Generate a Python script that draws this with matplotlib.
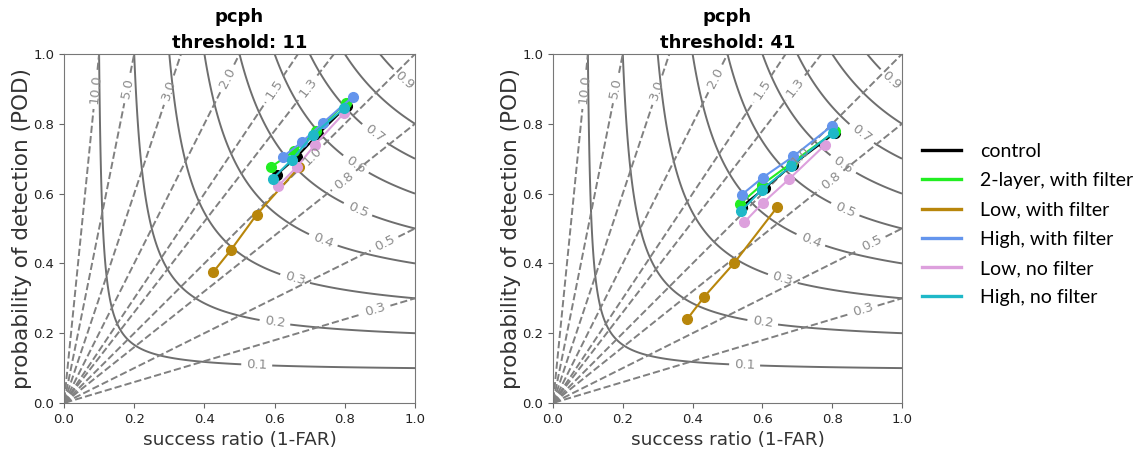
import numpy as np
import matplotlib.pyplot as plt
from matplotlib.lines import Line2D

# runs, in legend order
names = ["control", "2-layer, with filter", "Low, with filter",
         "High, with filter", "Low, no filter", "High, no filter"]
colors = ["black", "#22ee22", "#b8860b", "#6495ed", "#dda0dd", "#1fb8c8"]

# success ratio / POD, threshold 11
sr_11 = [[0.606, 0.663, 0.725, 0.805],
         [0.589, 0.655, 0.718, 0.803],
         [0.425, 0.476, 0.549, 0.670],
         [0.623, 0.677, 0.737, 0.822],
         [0.611, 0.663, 0.715, 0.798],
         [0.595, 0.649, 0.710, 0.799]]
pod_11 = [[0.654, 0.705, 0.771, 0.850],
          [0.676, 0.721, 0.778, 0.860],
          [0.375, 0.439, 0.540, 0.676],
          [0.705, 0.747, 0.802, 0.877],
          [0.623, 0.676, 0.740, 0.831],
          [0.643, 0.697, 0.769, 0.845]]

# success ratio / POD, threshold 41
sr_41 = [[0.541, 0.607, 0.687, 0.808],
         [0.536, 0.598, 0.684, 0.808],
         [0.385, 0.433, 0.519, 0.643],
         [0.541, 0.601, 0.689, 0.800],
         [0.548, 0.601, 0.677, 0.779],
         [0.538, 0.598, 0.681, 0.801]]
pod_41 = [[0.563, 0.616, 0.683, 0.774],
          [0.571, 0.625, 0.688, 0.778],
          [0.241, 0.304, 0.401, 0.562],
          [0.597, 0.646, 0.707, 0.795],
          [0.518, 0.573, 0.642, 0.739],
          [0.549, 0.611, 0.678, 0.775]]

csi_levels = [0.1, 0.2, 0.3, 0.4, 0.5, 0.6, 0.7, 0.8, 0.9]
bias_levels = [0.3, 0.5, 0.8, 1.0, 1.3, 1.5, 2.0, 3.0, 5.0, 10.0]

# where the contour labels sit
csi_label_pos = [(0.549, 0.108), (0.601, 0.232), (0.658, 0.355), (0.739, 0.468),
                 (0.837, 0.554), (0.834, 0.688), (0.886, 0.774), (0.971, 0.926)]
bias_label_pos = [(0.886, 0.272), (0.910, 0.463), (0.796, 0.640), (0.706, 0.711),
                  (0.696, 0.902), (0.601, 0.898), (0.463, 0.931), (0.294, 0.898),
                  (0.183, 0.902), (0.095, 0.898)]


def perf_diagram(ax, sr, pod, title):
    ticks = np.linspace(0.001, 1, 600)
    sr_g, pod_g = np.meshgrid(ticks, ticks)
    bias = pod_g / sr_g
    csi = 1.0 / (1.0 / sr_g + 1.0 / pod_g - 1.0)

    cs = ax.contour(sr_g, pod_g, csi, csi_levels, colors="#6e6e6e",
                    linewidths=1.4, linestyles="solid")
    ax.clabel(cs, fmt="%1.1f", fontsize=9.5, colors="#8c8c8c",
              manual=csi_label_pos, inline=True)
    bs = ax.contour(sr_g, pod_g, bias, bias_levels, colors="#808080",
                    linewidths=1.4, linestyles="dashed")
    ax.clabel(bs, fmt="%1.1f", fontsize=9.5, colors="#8c8c8c",
              manual=bias_label_pos, inline=True)

    for i in range(len(names)):
        ax.plot(sr[i], pod[i], "-o", color=colors[i], lw=1.5, ms=7, label=names[i])

    ax.set_xlim(0, 1)
    ax.set_ylim(0, 1)
    ax.set_xticks(np.arange(0, 1.01, 0.2))
    ax.set_yticks(np.arange(0, 1.01, 0.2))
    ax.tick_params(labelsize=9.5, color="#666666", labelcolor="#222222")
    for s in ax.spines.values():
        s.set_color("#777777")
    ax.set_xlabel("success ratio (1-FAR)", fontsize=13.3, color="#333333")
    ax.set_ylabel("probability of detection (POD)", fontsize=15.5,
                  color="#333333", labelpad=1)
    ax.set_title(title, fontsize=13, fontweight="bold", pad=4, linespacing=1.6)


fig = plt.figure(figsize=(11.44, 4.5), dpi=100)
ax1 = fig.add_axes([64 / 1144, 47 / 450, 351 / 1144, 349 / 450])
ax2 = fig.add_axes([553 / 1144, 47 / 450, 349 / 1144, 349 / 450])

perf_diagram(ax1, sr_11, pod_11, "pcph\nthreshold: 11")
perf_diagram(ax2, sr_41, pod_41, "pcph\nthreshold: 41")

handles = [Line2D([], [], color=c, lw=2.4) for c in colors]
fig.legend(handles, names, loc="center left", bbox_to_anchor=(922 / 1144, 0.501),
           frameon=False, prop={"family": "Lato", "size": 14},
           handlelength=2.0, handletextpad=1.0, labelspacing=0.63,
           borderaxespad=0, borderpad=0)

fig.savefig("out.png", dpi=100)
